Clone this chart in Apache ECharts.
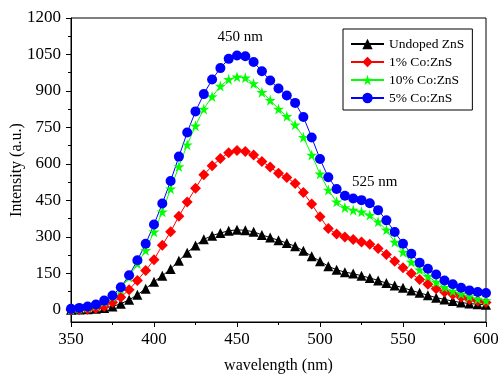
<!DOCTYPE html>
<html>
<head>
<meta charset="utf-8">
<script src="https://cdn.jsdelivr.net/npm/echarts@6/dist/echarts.min.js"></script>
<style>
  html, body { margin: 0; padding: 0; background: #fff; }
  #chart { width: 500px; height: 376px; }
</style>
</head>
<body>
<div id="chart"></div>
<script>
// wavelength grid (nm), one point every 5 nm
const wavelengths = []
for (let w = 350; w <= 600; w += 5) wavelengths.push(w)

// intensities (a.u.)
const undoped = [0, 1, 2, 4, 8, 14, 25, 41, 62, 87, 116, 140, 168, 202, 235, 265, 290, 305, 316, 325,
  329, 327, 321, 308, 297, 286, 275, 261, 243, 220, 200, 179, 165, 155, 149, 140, 131, 121, 110, 100,
  91, 80, 70, 60, 50, 43, 36, 30, 26, 23, 21]
const co1 = [0, 0, 2, 5, 14, 31, 52, 83, 121, 162, 206, 266, 321, 385, 443, 500, 555, 592, 622, 646,
  655, 651, 637, 610, 587, 562, 544, 520, 482, 435, 383, 334, 312, 300, 289, 279, 270, 252, 228, 200,
  173, 149, 125, 105, 87, 73, 63, 52, 43, 36, 30]
const co10 = [2, 5, 10, 18, 33, 55, 85, 135, 190, 245, 321, 403, 498, 589, 679, 757, 826, 877, 920, 948,
  958, 954, 931, 895, 862, 826, 796, 761, 710, 637, 559, 493, 444, 421, 410, 403, 390, 362, 329, 279,
  238, 197, 165, 138, 114, 93, 77, 66, 55, 45, 38]
const co5 = [4, 8, 14, 22, 38, 59, 93, 142, 204, 272, 351, 437, 530, 630, 729, 816, 887, 947, 994, 1032,
  1046, 1043, 1019, 981, 943, 910, 881, 851, 793, 709, 620, 545, 497, 469, 458, 451, 438, 410, 368, 320,
  272, 231, 194, 169, 145, 121, 105, 91, 80, 73, 69]

const yLabels = [0, 150, 300, 450, 600, 750, 900, 1050, 1200]
const yMinor = [75, 225, 375, 525, 675, 825, 975, 1125]

const FONT = '"Liberation Serif", "Times New Roman", serif'
const STAR = 'path://M50,0 L61,35 L98,35 L68,57 L79,91 L50,70 L21,91 L32,57 L2,35 L39,35 Z'

const pairs = arr => arr.map((v, i) => [wavelengths[i], v])

const seriesDefs = [
  { name: 'Undoped ZnS', data: undoped, color: '#000000', symbol: 'triangle', size: 10 },
  { name: '1% Co:ZnS', data: co1, color: '#ff0000', symbol: 'diamond', size: 11 },
  { name: '10% Co:ZnS', data: co10, color: '#00ff00', symbol: STAR, size: 11 },
  { name: '5% Co:ZnS', data: co5, color: '#0000ff', symbol: 'circle', size: 10 }
]

const chart = echarts.init(document.getElementById('chart'), null, { renderer: 'canvas' })

const option = {
  animation: false,
  textStyle: { fontFamily: FONT },
  grid: {
    left: 71, right: 14, top: 18, bottom: 54,
    containLabel: false,
    outerBoundsMode: 'none',
    show: true, borderColor: '#000', borderWidth: 1, backgroundColor: 'transparent'
  },
  legend: {
    orient: 'vertical',
    left: 343,
    top: 29,
    padding: [8, 8, 5, 7],
    itemGap: 4,
    itemWidth: 33,
    itemHeight: 13,
    borderColor: '#000',
    borderWidth: 1,
    textStyle: { fontFamily: FONT, fontSize: 13.5, color: '#000' },
    data: seriesDefs.map(s => s.name)
  },
  xAxis: {
    type: 'value',
    min: 350,
    max: 600,
    interval: 50,
    name: 'wavelength (nm)',
    nameLocation: 'middle',
    nameGap: 36,
    nameMoveOverlap: false,
    nameTextStyle: { fontFamily: FONT, fontSize: 16, color: '#000' },
    axisLine: { onZero: false, lineStyle: { color: '#000', width: 1 } },
    axisTick: { inside: false, length: 5, lineStyle: { color: '#000' } },
    minorTick: { show: true, splitNumber: 2, length: 3, lineStyle: { color: '#000' } },
    axisLabel: { fontFamily: FONT, fontSize: 17, color: '#000', margin: 9, formatter: v => String(v) },
    splitLine: { show: false }
  },
  yAxis: [
    {
      type: 'value',
      min: -50,
      max: 1200,
      name: 'Intensity (a.u.)',
      nameLocation: 'middle',
      nameGap: 46,
      nameMoveOverlap: false,
      nameTextStyle: { fontFamily: FONT, fontSize: 16, color: '#000' },
      axisLine: { show: true, lineStyle: { color: '#000', width: 1 } },
      axisTick: { show: true, length: 5, customValues: yLabels, lineStyle: { color: '#000' } },
      axisLabel: {
        fontFamily: FONT, fontSize: 17, color: '#000', margin: 10,
        customValues: yLabels, formatter: v => String(v)
      },
      splitLine: { show: false }
    },
    {
      type: 'value',
      min: -50,
      max: 1200,
      position: 'left',
      axisLine: { show: false },
      axisTick: { show: true, length: 3, customValues: yMinor, lineStyle: { color: '#000' } },
      axisLabel: { show: false },
      splitLine: { show: false }
    }
  ],
  series: seriesDefs.map(s => ({
    name: s.name,
    type: 'line',
    yAxisIndex: 0,
    data: pairs(s.data),
    symbol: s.symbol,
    symbolSize: s.size,
    showAllSymbol: true,
    lineStyle: { color: s.color, width: 1 },
    itemStyle: { color: s.color },
    emphasis: { disabled: true }
  }))
}

chart.setOption(option)

// peak annotations, placed in data coordinates
const notes = [
  { text: '450 nm', at: [452, 1120] },
  { text: '525 nm', at: [533, 525] }
]
chart.setOption({
  graphic: notes.map(n => {
    const p = chart.convertToPixel({ gridIndex: 0 }, n.at)
    return {
      type: 'text',
      x: p[0],
      y: p[1],
      style: { text: n.text, fontFamily: FONT, fontSize: 15, fill: '#000', align: 'center', verticalAlign: 'middle' }
    }
  })
})
</script>
</body>
</html>
